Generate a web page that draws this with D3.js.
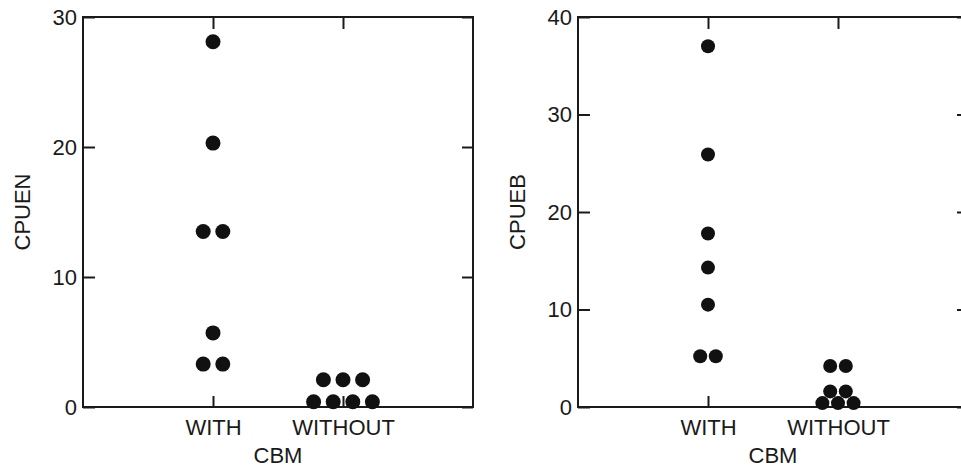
<!DOCTYPE html>
<html>
<head>
<meta charset="utf-8">
<script src="https://cdn.jsdelivr.net/npm/d3@7"></script>
<style>
  body { margin: 0; background: #fff; }
  svg text { font-family: "Liberation Sans", Arial, sans-serif; fill: #1a1a1a; }
</style>
</head>
<body>
<div class="chart"></div>
<script>
// categories
var groups = ["WITH", "WITHOUT"];

// CPUEN values (left panel)
var cpuenWith = [28.1, 20.3, 13.5, 13.5, 5.7, 3.3, 3.3];
var cpuenWithout = [2.1, 2.1, 2.1, 0.4, 0.4, 0.4, 0.4];

// CPUEB values (right panel)
var cpuebWith = [37.0, 25.9, 17.8, 14.3, 10.5, 5.2, 5.2];
var cpuebWithout = [4.2, 4.2, 1.6, 1.6, 0.4, 0.4, 0.4];

// y tick labels
var cpuenTicks = [0, 10, 20, 30];
var cpuebTicks = [0, 10, 20, 30, 40];

var svgWidth = 961;
var svgHeight = 470;

var svg = d3.select(".chart")
  .append("svg")
  .attr("width", svgWidth)
  .attr("height", svgHeight);

// spread points with equal values side by side
function dodge(values, group, spacing) {
  var counts = {};
  values.forEach(function(v) { counts[v] = (counts[v] || 0) + 1; });
  var seen = {};
  return values.map(function(v) {
    var i = seen[v] || 0;
    seen[v] = i + 1;
    return { group: group, value: v, offset: (i - (counts[v] - 1) / 2) * spacing };
  });
}

function drawPanel(opts) {
  var width = 390;
  var height = 390;

  var g = svg.append("g")
    .attr("transform", `translate(${opts.left}, 17)`);

  var x = d3.scalePoint()
    .domain(groups)
    .range([0, width])
    .padding(1);

  var y = d3.scaleLinear()
    .domain([0, opts.max])
    .range([height, 0]);

  // Axes, ticks pointing inward
  var leftAxis = g.append("g")
    .call(d3.axisLeft(y).tickValues(opts.ticks).tickSizeInner(-12).tickSizeOuter(0).tickPadding(6));

  var rightAxis = g.append("g")
    .attr("transform", `translate(${width}, 0)`)
    .call(d3.axisRight(y).tickValues(opts.ticks).tickSizeInner(-11).tickSizeOuter(0).tickFormat(""));

  var topAxis = g.append("g")
    .call(d3.axisTop(x).tickSizeInner(-12).tickSizeOuter(0).tickFormat(""));

  var bottomAxis = g.append("g")
    .attr("transform", `translate(0, ${height})`)
    .call(d3.axisBottom(x).tickSizeInner(-11).tickSizeOuter(0).tickPadding(12));

  [leftAxis, rightAxis, topAxis, bottomAxis].forEach(function(a) {
    a.select(".domain").remove();
    a.selectAll("line").attr("stroke", "#1a1a1a").attr("stroke-width", 2);
    a.selectAll("text").attr("font-size", 22).attr("fill", "#1a1a1a");
  });

  g.append("rect")
    .attr("width", width)
    .attr("height", height)
    .attr("fill", "none")
    .attr("stroke", "#1a1a1a")
    .attr("stroke-width", 2);

  var points = dodge(opts.withVals, "WITH", opts.spacing)
    .concat(dodge(opts.withoutVals, "WITHOUT", opts.spacing));

  g.selectAll("circle")
    .data(points)
    .enter()
    .append("circle")
    .attr("cx", d => x(d.group) + d.offset)
    .attr("cy", d => y(d.value))
    .attr("r", opts.r)
    .attr("fill", "#111");

  // axis labels
  g.append("text")
    .attr("transform", `translate(-53, ${height / 2}) rotate(-90)`)
    .attr("text-anchor", "middle")
    .attr("font-size", 22)
    .text(opts.yLabel);

  g.append("text")
    .attr("x", width / 2)
    .attr("y", height + 56)
    .attr("text-anchor", "middle")
    .attr("font-size", 22)
    .text("CBM");
}

drawPanel({ left: 83, max: 30, ticks: cpuenTicks, withVals: cpuenWith, withoutVals: cpuenWithout, spacing: 19.6, r: 7.5, yLabel: "CPUEN" });
drawPanel({ left: 578, max: 40, ticks: cpuebTicks, withVals: cpuebWith, withoutVals: cpuebWithout, spacing: 15.6, r: 7, yLabel: "CPUEB" });
</script>
</body>
</html>
